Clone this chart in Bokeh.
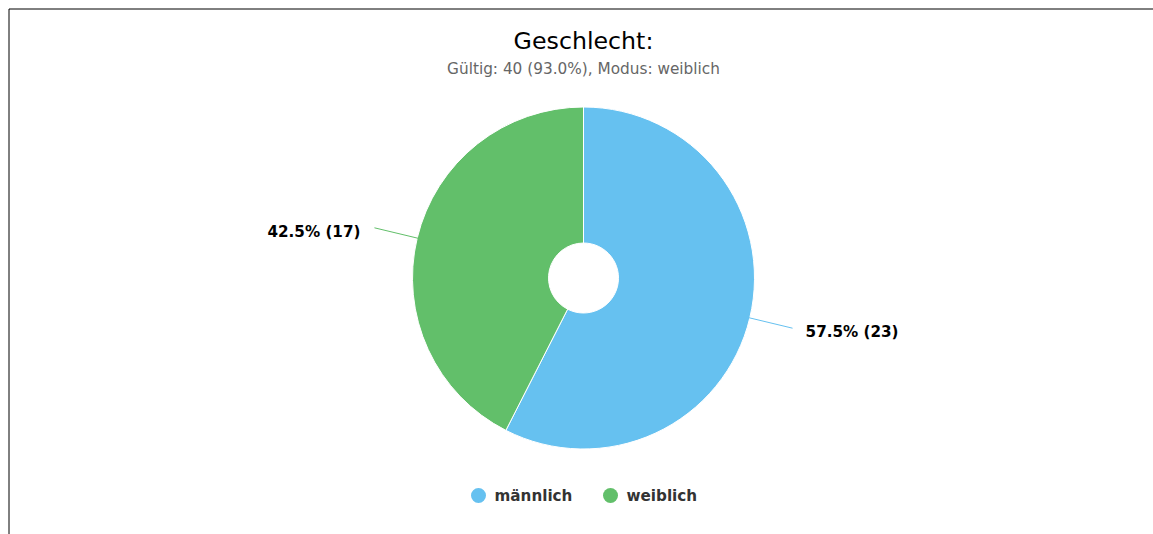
import math
from bokeh.plotting import figure
from bokeh.models import Range1d, ColumnDataSource
from bokeh.core.properties import value
from bokeh.embed import file_html
from bokeh.resources import INLINE

# ---- data ----
categories = ["männlich", "weiblich"]
counts = [23, 17]
colors = ["#66C1F0", "#62BF6A"]
title_text = "Geschlecht:"
subtitle_text = "Gültig: 40 (93.0%), Modus: weiblich"

W, H = 1153, 534
p = figure(width=W, height=H, output_backend="svg", toolbar_location=None,
           x_range=Range1d(0, W), y_range=Range1d(0, H), min_border=0,
           outline_line_color=None)
p.axis.visible = False
p.grid.visible = False

def py(page_y):
    return H - page_y

def px(page_x):
    return page_x

# frame border (top and left)
p.segment(x0=[px(8.5), px(8.5)], y0=[py(8.5), py(8.5)],
          x1=[px(W), px(8.5)], y1=[py(8.5), py(H)],
          line_color="#000", line_width=1)

cx, cy = px(583), py(277.5)
R_out, R_in = 171, 35

total = sum(counts)
starts, ends, mids = [], [], []
a = math.pi / 2
for c in counts:
    sweep = 2 * math.pi * c / total
    starts.append(a - sweep)
    ends.append(a)
    mids.append(a - sweep / 2)
    a -= sweep

src = ColumnDataSource(dict(start=starts, end=ends, color=colors))
p.annular_wedge(x=cx, y=cy, inner_radius=R_in, outer_radius=R_out,
                start_angle="start", end_angle="end", fill_color="color",
                line_color="white", line_width=1, source=src)

# labels with connectors
for c, m, col in zip(counts, mids, colors):
    x0 = cx + (R_out - 3) * math.cos(m)
    y0 = cy + (R_out - 3) * math.sin(m)
    x1 = cx + 215 * math.cos(m)
    y1 = cy + 215 * math.sin(m)
    p.line([x0, x1], [y0, y1], line_color=col, line_width=1)
    right = math.cos(m) > 0
    tx = x1 + (13 if right else -14)
    ty = y1 - 3.5 if right else y1 - 4
    label = f"{100 * c / total:.1f}% ({c})"
    p.text(x=[tx], y=[ty], text=[label], text_font=value("DejaVu Sans"),
           text_font_size="15.2px", text_font_style="bold", text_color="#000",
           text_align="left" if right else "right", text_baseline="middle")

# title/subtitle
p.text(x=[px(583)], y=[py(40)], text=[title_text], text_font=value("DejaVu Sans"),
       text_font_size="23.7px", text_color="#000", text_align="center",
       text_baseline="middle")
p.text(x=[px(583)], y=[py(68)], text=[subtitle_text], text_font=value("DejaVu Sans"),
       text_font_size="15.3px", text_color="#666666", text_align="center",
       text_baseline="middle")

# legend
leg_x = [px(478), px(610)]
p.scatter(x=leg_x, y=[py(495)] * 2, size=15, marker="circle",
          fill_color=colors, line_color=None)
p.text(x=[v + 16 for v in leg_x], y=[py(495)] * 2, text=categories,
       text_font=value("DejaVu Sans"), text_font_size="15.2px",
       text_font_style="bold", text_color="#333333", text_align="left",
       text_baseline="middle")

open("out.html", "w").write(file_html(p, INLINE))
